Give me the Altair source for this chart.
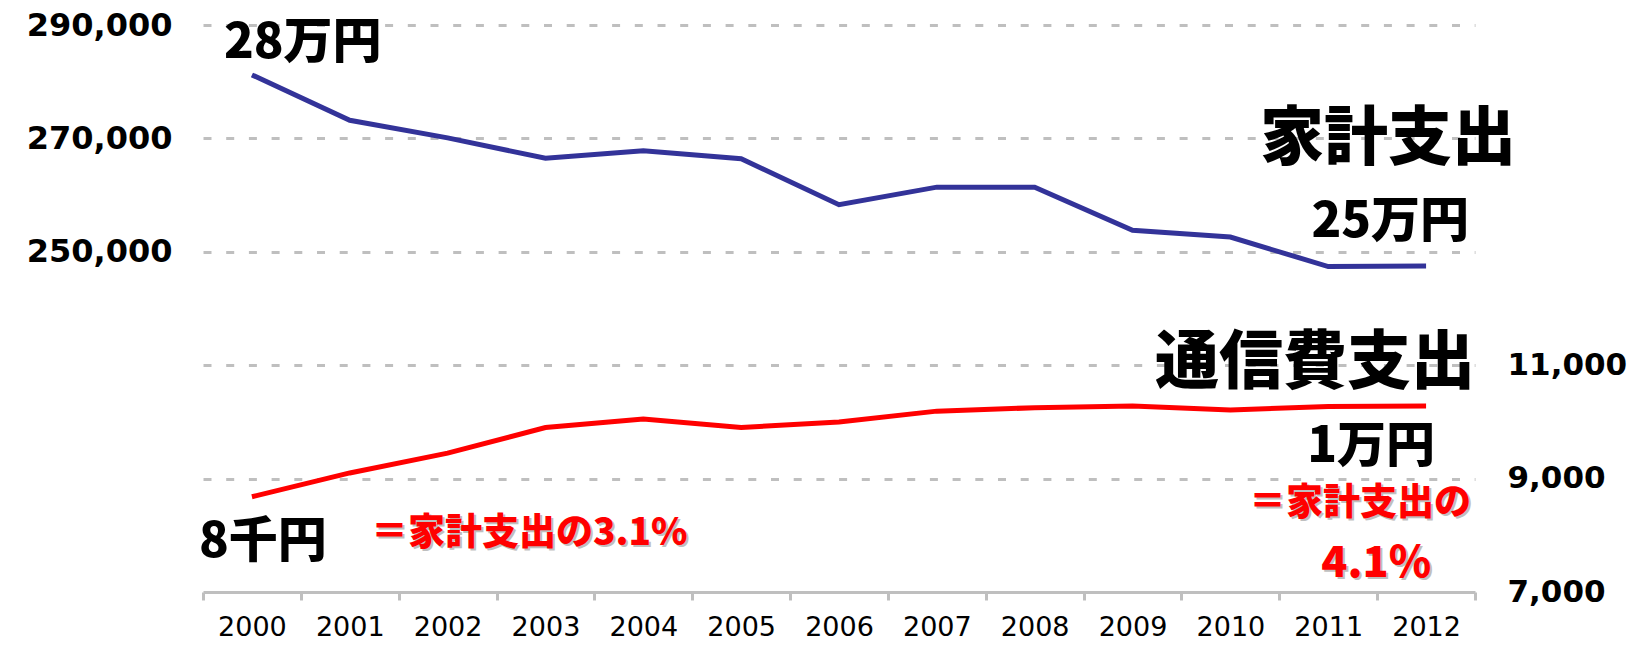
import altair as alt
import pandas as pd

years = ["2000", "2001", "2002", "2003", "2004", "2005", "2006",
         "2007", "2008", "2009", "2010", "2011", "2012"]
household = [281200, 273200, 270100, 266500, 267800, 266400, 258300,
             261400, 261400, 253800, 252600, 247400, 247500]
telecom = [8680, 9100, 9450, 9900, 10050, 9900, 10000,
           10190, 10250, 10280, 10210, 10270, 10280]

left_ticks = [210000, 230000, 250000, 270000, 290000]
right_ticks = [7000, 9000, 11000]

JP = "Noto Sans CJK JP"
NUM = "DejaVu Sans"

blue_df = pd.DataFrame({"year": years, "v": household})
red_df = pd.DataFrame({"year": years, "v": telecom})

X = alt.X(
    "year:O",
    scale=alt.Scale(type="band", paddingInner=0, paddingOuter=0),
    bandPosition=0.5,
    axis=alt.Axis(
        title="", labelAngle=0, grid=False,
        domainColor="#bfbfbf", domainWidth=3,
        tickColor="#bfbfbf", tickWidth=3, tickSize=8, tickBand="extent",
        labelFont=NUM, labelFontSize=27, labelColor="#000000", labelPadding=14,
    ),
)

Y_blue = alt.Y(
    "v:Q",
    scale=alt.Scale(domain=[190000, 290000], nice=False, zero=False),
    axis=alt.Axis(
        title="", orient="left", values=left_ticks,
        labelExpr="datum.value >= 250000 ? format(datum.value, ',') : ''",
        grid=True, gridColor="#bfbfbf", gridDash=[8, 14.7], gridWidth=3,
        domain=False, ticks=False, tickSize=0,
        labelFont=NUM, labelFontWeight="bold", labelFontSize=32,
        labelColor="#000000", labelPadding=31,
    ),
)

Y_red = alt.Y(
    "v:Q",
    scale=alt.Scale(domain=[7000, 17000], nice=False, zero=False),
    axis=alt.Axis(
        title="", orient="right", values=right_ticks,
        labelExpr="format(datum.value, ',')",
        grid=False, domain=False, ticks=False, tickSize=0,
        labelFont=NUM, labelFontWeight="bold", labelFontSize=31,
        labelColor="#000000", labelPadding=32, labelAlign="left",
    ),
)


def note(df, Y, text, size, align, dx, dy, color="#000000", opacity=1.0):
    return alt.Chart(df).mark_text(
        text=text, font=JP, fontWeight=900, fontSize=size,
        align=align, baseline="alphabetic", dx=dx, dy=dy,
        color=color, opacity=opacity,
    ).encode(x=X, y=Y)


def red_note(df, Y, text, size, align, dx, dy):
    shadow = note(df, Y, text, size, align, dx + 2, dy + 2, color="#8c8c8c", opacity=0.55)
    main = note(df, Y, text, size, align, dx, dy, color="#ff0000")
    return [shadow, main]


b_first = blue_df.iloc[[0]]
b_last = blue_df.iloc[[-1]]
r_first = red_df.iloc[[0]]
r_last = red_df.iloc[[-1]]

blue_line = alt.Chart(blue_df).mark_line(color="#333399", strokeWidth=5).encode(x=X, y=Y_blue)
blue_layer = alt.layer(
    blue_line,
    note(b_first, Y_blue, "28万円", 49, "left", -28, -17),
    note(b_last, Y_blue, "25万円", 49, "right", 43, -29),
    note(b_last, Y_blue, "家計支出", 64, "right", 90, -107),
)

red_line = alt.Chart(red_df).mark_line(color="#ff0000", strokeWidth=5).encode(x=X, y=Y_red)
red_layer = alt.layer(
    red_line,
    note(r_first, Y_red, "8千円", 49, "left", -53, 60),
    *red_note(r_first, Y_red, "＝家計支出の3.1%", 37, "left", 119, 48),
    note(r_last, Y_red, "1万円", 49, "right", 9, 56),
    note(r_last, Y_red, "通信費支出", 64, "right", 49, -23),
    *red_note(r_last, Y_red, "＝家計支出の", 37, "right", 45, 109),
    *red_note(r_last, Y_red, "4.1%", 43, "right", 5, 171),
)

chart = (
    alt.layer(blue_layer, red_layer)
    .resolve_scale(y="independent")
    .properties(
        width=1272, height=567,
        autosize=alt.AutoSizeParams(type="none"),
        padding={"left": 195, "top": 17, "right": 158, "bottom": 48},
        background="#ffffff",
    )
    .configure_view(strokeWidth=0)
)

chart.save("out.html", embed_options={"renderer": "svg", "actions": False})
